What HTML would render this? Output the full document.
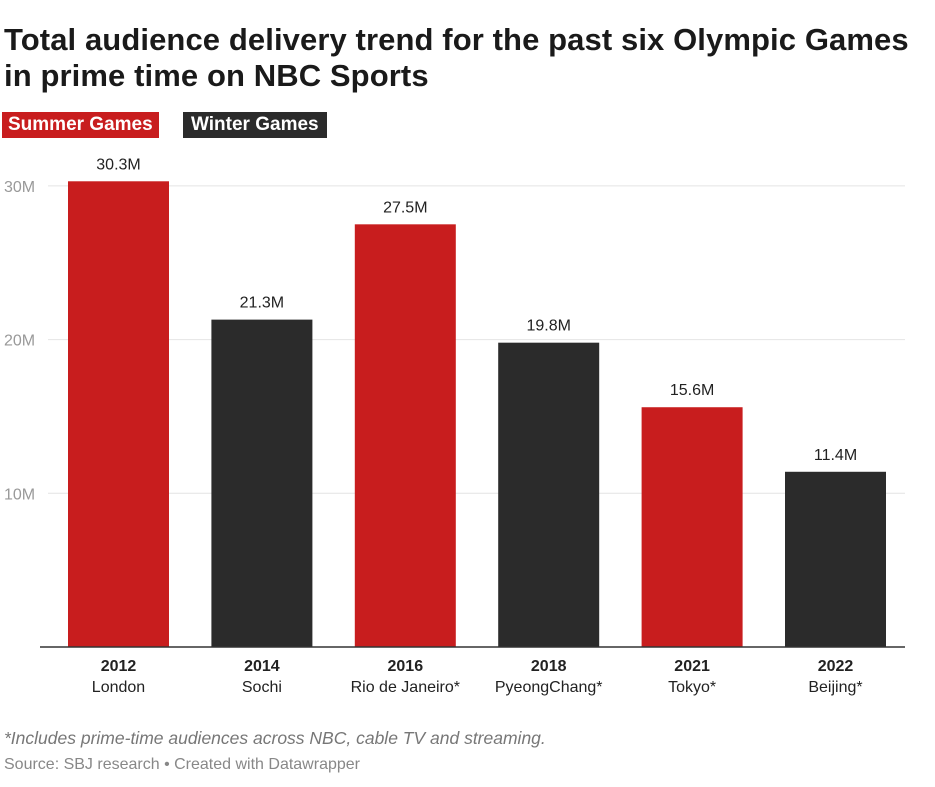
<!DOCTYPE html>
<html><head><meta charset="utf-8"><style>
body{margin:0;width:935px;height:787px;background:#fff;font-family:"Liberation Sans",sans-serif;position:relative;overflow:hidden}
.t{position:absolute;left:4px;top:22px;font-size:31px;font-weight:bold;color:#1a1a1a;line-height:36px;letter-spacing:0.1px}
.lg{position:absolute;top:112px;height:26px;line-height:26px;color:#fff;font-weight:bold;font-size:19px;padding:0 6px}
.n{position:absolute;left:4px;font-size:16px;color:#777}
</style></head><body>
<div class="t">Total audience delivery trend for the past six Olympic Games<br>in prime time on NBC Sports</div>
<div class="lg" style="left:2px;background:#c81d1e">Summer Games</div>
<div class="lg" style="left:183px;background:#2b2b2b;padding:0 8px">Winter Games</div>
<svg id="c" width="935" height="787" style="position:absolute;left:0;top:0"></svg>
<div class="n" style="top:728px;font-style:italic;font-size:17.5px">*Includes prime-time audiences across NBC, cable TV and streaming.</div>
<div class="n" style="top:756px;font-size:16px;color:#888">Source: SBJ research • Created with Datawrapper</div>
<script>
const years=["2012","2014","2016","2018","2021","2022"];
const cities=["London","Sochi","Rio de Janeiro*","PyeongChang*","Tokyo*","Beijing*"];
const values=[30.3,21.3,27.5,19.8,15.6,11.4];
const seasons=["summer","winter","summer","winter","summer","winter"];
const ticks=[10,20,30];
const svg=document.getElementById('c');const NS="http://www.w3.org/2000/svg";
const y=v=>647-v*15.37;
const x=i=>68+i*143.4;const bw=101;
function mk(t,a,txt){const e=document.createElementNS(NS,t);for(const k in a)e.setAttribute(k,a[k]);if(txt!=null)e.textContent=txt;svg.appendChild(e);return e;}
ticks.forEach(t=>{
const g=mk('line',{x1:48,x2:905,y1:y(t),y2:y(t),stroke:'#e4e4e4','stroke-width':1});


const l=mk('text',{x:4,y:y(t)+6,fill:'#999','font-size':16},t+'M');


});
values.forEach((v,i)=>{
const r=mk('rect',{x:x(i),y:y(v),width:bw,height:647-y(v),fill:seasons[i]=='summer'?'#c81d1e':'#2b2b2b'});


const l=mk('text',{x:x(i)+bw/2,y:y(v)-12,'text-anchor':'middle','font-size':16,fill:'#222'},v.toFixed(1)+'M');


const a=mk('text',{x:x(i)+bw/2,y:671,'text-anchor':'middle','font-size':16,'font-weight':'bold',fill:'#222'},years[i]);


const b=mk('text',{x:x(i)+bw/2,y:692,'text-anchor':'middle','font-size':16,fill:'#222'},cities[i]);


});
const ax=mk('line',{x1:40,x2:905,y1:647,y2:647,stroke:'#333','stroke-width':1.5});


</script>
</body></html>
